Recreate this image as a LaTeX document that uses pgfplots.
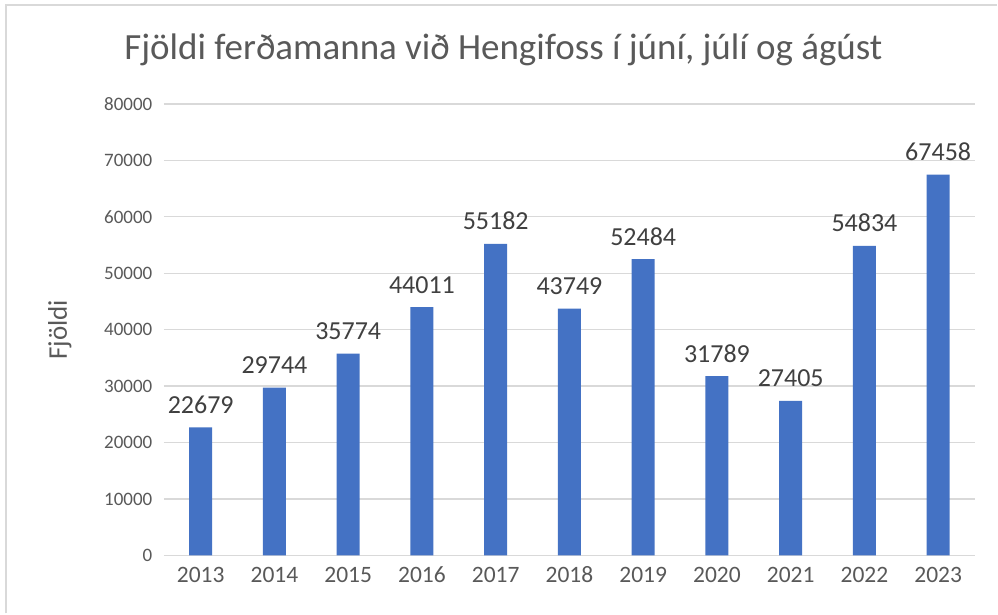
\documentclass[border=0pt]{standalone}
\usepackage{pgfplots}
\pgfplotsset{compat=1.18}
\usepackage{fontspec}
\setmainfont{Carlito}
\definecolor{barblue}{HTML}{4472C4}
\definecolor{txtgray}{HTML}{595959}
\definecolor{lblgray}{HTML}{404040}
\definecolor{gridgray}{HTML}{D9D9D9}
\begin{document}
\begin{tikzpicture}
\fill[white] (0,0) rectangle (998pt,614pt);
\draw[gridgray, line width=2pt] (6pt,0pt) -- (6pt,609pt) -- (998pt,609pt);
\node[txtgray, font=\fontsize{37}{42}\selectfont] at (504pt,564pt) {Fjöldi ferðamanna við Hengifoss í júní, júlí og ágúst};
\node[txtgray, rotate=90, font=\fontsize{27}{30}\selectfont] at (60pt,284pt) {Fjöldi};
\begin{axis}[
  at={(164pt,58pt)}, anchor=south west,
  scale only axis, width=812pt, height=452pt,
  xmin=-0.5, xmax=10.5, ymin=0, ymax=80000,
  axis line style={draw=none},
  tick style={draw=none},
  ymajorgrids, grid style={gridgray, line width=1.3pt},
  xtick={0,...,10},
  xticklabels={2013,2014,2015,2016,2017,2018,2019,2020,2021,2022,2023},
  ytick={0,10000,20000,30000,40000,50000,60000,70000,80000},
  yticklabels={0,10000,20000,30000,40000,50000,60000,70000,80000},
  xticklabel style={txtgray, font=\fontsize{23.5}{26}\selectfont, yshift=-8pt},
  yticklabel style={txtgray, font=\fontsize{19}{22}\selectfont, xshift=-8pt},
  scaled y ticks=false,
  point meta=explicit symbolic,
  nodes near coords,
  every node near coord/.append style={lblgray, font=\fontsize{26}{29}\selectfont, anchor=base, yshift=14pt},
  clip=false,
]
\addplot[ybar, bar width=23pt, fill=barblue, draw=none] coordinates {
(0,22679) [22679]
(1,29744) [29744]
(2,35774) [35774]
(3,44011) [44011]
(4,55182) [55182]
(5,43749) [43749]
(6,52484) [52484]
(7,31789) [31789]
(8,27405) [27405]
(9,54834) [54834]
(10,67458) [67458]
};
\end{axis}
\end{tikzpicture}
\end{document}
